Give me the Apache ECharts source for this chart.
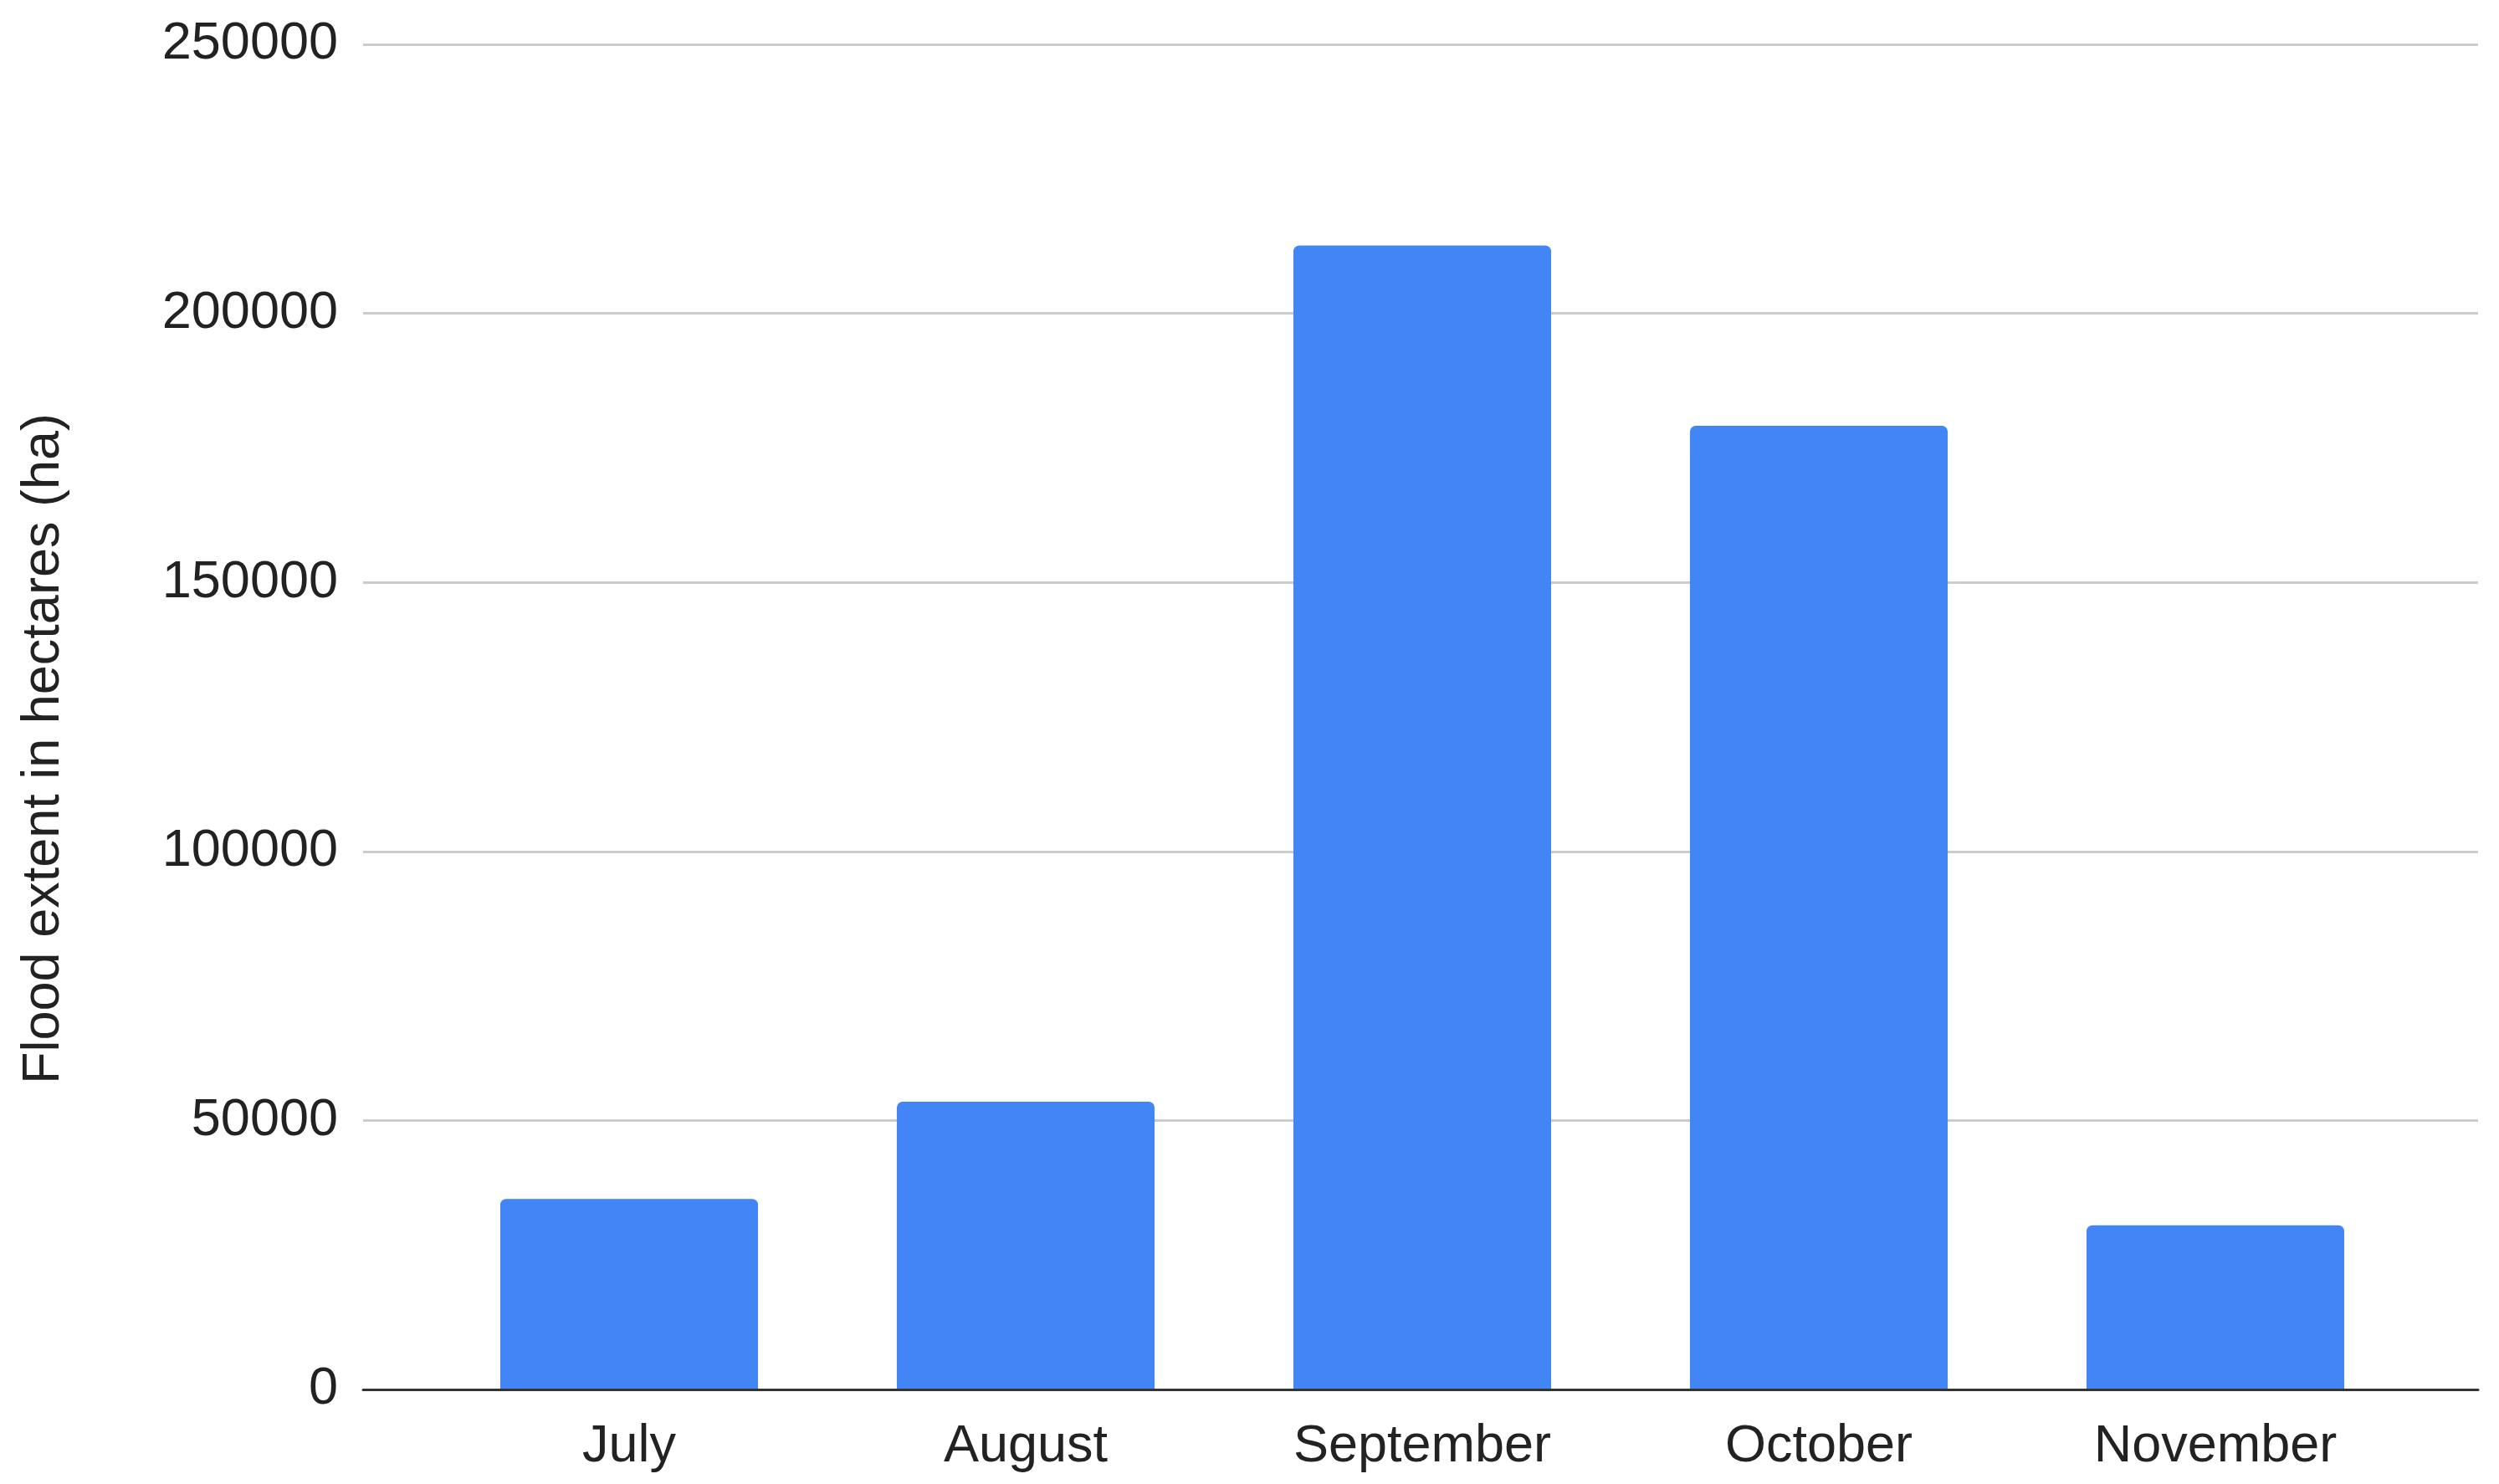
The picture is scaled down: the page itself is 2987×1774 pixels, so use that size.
<!DOCTYPE html>
<html>
<head>
<meta charset="utf-8">
<script src="https://cdn.jsdelivr.net/npm/echarts@6/dist/echarts.min.js"></script>
<style>
html,body{margin:0;padding:0;background:#fff;}
#chart{width:2987px;height:1774px;}
</style>
</head>
<body>
<div id="chart"></div>
<script>
const months = ['July', 'August', 'September', 'October', 'November'];
const floodExtent = [35400, 53500, 212600, 179100, 30500];
const yTicks = [0, 50000, 100000, 150000, 200000, 250000];
const yTitle = 'Flood extent in hectares (ha)';

const FONT = '"Liberation Sans", Arial, sans-serif';
const yMin = yTicks[0], yMax = yTicks[yTicks.length - 1], yStep = yTicks[1] - yTicks[0];

const chart = echarts.init(document.getElementById('chart'), null, {renderer: 'canvas'});
chart.setOption({
  backgroundColor: '#ffffff',
  animation: false,
  grid: [
    {left: 434, right: 25, top: 53, bottom: 113},
    {left: 515, right: 102, top: 53, bottom: 113}
  ],
  xAxis: [
    {
      gridIndex: 0, type: 'value', min: 0, max: 1, z: 5,
      axisLine: {show: true, lineStyle: {color: '#333333', width: 3}},
      axisTick: {show: false}, axisLabel: {show: false}, splitLine: {show: false}
    },
    {
      gridIndex: 1, type: 'category', data: months,
      axisLine: {show: false}, axisTick: {show: false},
      axisLabel: {fontFamily: FONT, fontSize: 63, color: '#222222', margin: 37}
    }
  ],
  yAxis: [
    {
      gridIndex: 0, type: 'value', min: yMin, max: yMax, interval: yStep,
      axisLine: {show: false}, axisTick: {show: false},
      axisLabel: {
        fontFamily: FONT, fontSize: 63, color: '#222222', margin: 30,
        formatter: function (v) { return String(v); }
      },
      splitLine: {lineStyle: {color: '#cccccc', width: 3}}
    },
    {
      gridIndex: 1, type: 'value', min: yMin, max: yMax, interval: yStep, show: false,
      splitLine: {show: false}
    }
  ],
  graphic: [{
    type: 'text',
    x: 53, y: 895,
    rotation: Math.PI / 2,
    style: {
      text: yTitle, fontFamily: FONT, fontSize: 63, fill: '#222222',
      textAlign: 'center', textVerticalAlign: 'middle'
    }
  }],
  series: [{
    type: 'bar',
    xAxisIndex: 1, yAxisIndex: 1,
    data: floodExtent,
    barWidth: '65%',
    itemStyle: {color: '#4285F4', borderRadius: [7, 7, 0, 0]},
    z: 2
  }]
});
</script>
</body>
</html>
